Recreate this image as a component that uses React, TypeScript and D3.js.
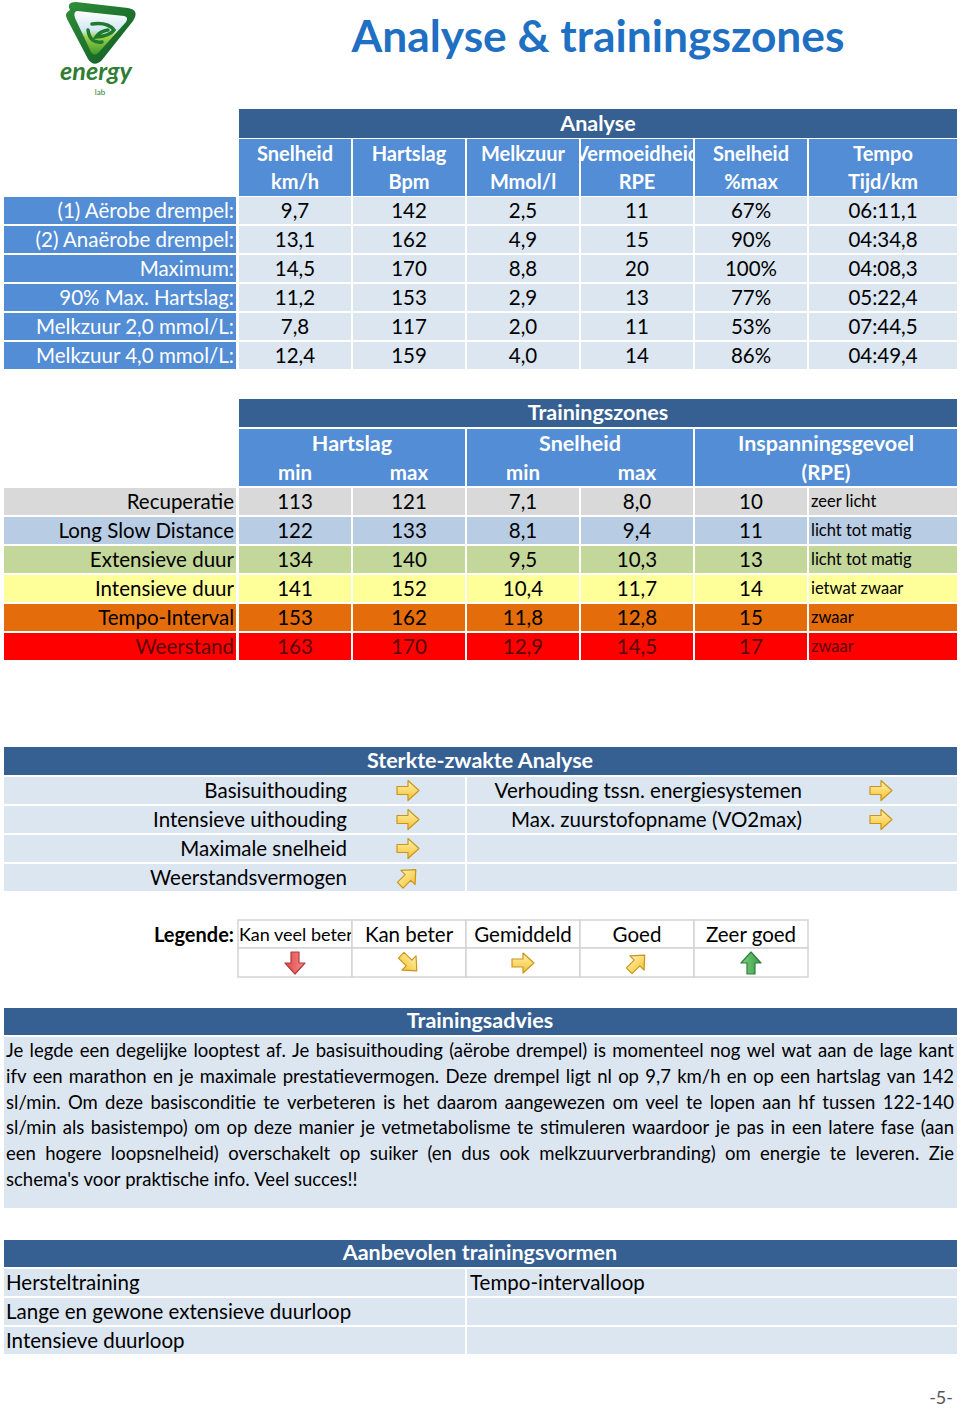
import React, { useMemo } from 'react';
import * as d3 from 'd3';

// ---------- DATA ----------
const analyseRowLabels = ['(1) Aërobe drempel:', '(2) Anaërobe drempel:', 'Maximum:', '90% Max. Hartslag:', 'Melkzuur 2,0 mmol/L:', 'Melkzuur 4,0 mmol/L:'];
const analyseHead1 = ['Snelheid', 'Hartslag', 'Melkzuur', 'Vermoeidheid', 'Snelheid', 'Tempo'];
const analyseHead2 = ['km/h', 'Bpm', 'Mmol/l', 'RPE', '%max', 'Tijd/km'];
const analyseSnelheid = ['9,7', '13,1', '14,5', '11,2', '7,8', '12,4'];
const analyseHartslag = ['142', '162', '170', '153', '117', '159'];
const analyseMelkzuur = ['2,5', '4,9', '8,8', '2,9', '2,0', '4,0'];
const analyseRPE = ['11', '15', '20', '13', '11', '14'];
const analysePctMax = ['67%', '90%', '100%', '77%', '53%', '86%'];
const analyseTempo = ['06:11,1', '04:34,8', '04:08,3', '05:22,4', '07:44,5', '04:49,4'];

const zoneNames = ['Recuperatie', 'Long Slow Distance', 'Extensieve duur', 'Intensieve duur', 'Tempo-Interval', 'Weerstand'];
const zoneHrMin = ['113', '122', '134', '141', '153', '163'];
const zoneHrMax = ['121', '133', '140', '152', '162', '170'];
const zoneSpeedMin = ['7,1', '8,1', '9,5', '10,4', '11,8', '12,9'];
const zoneSpeedMax = ['8,0', '9,4', '10,3', '11,7', '12,8', '14,5'];
const zoneRPE = ['10', '11', '13', '14', '15', '17'];
const zoneFeel = ['zeer licht', 'licht tot matig', 'licht tot matig', 'ietwat zwaar', 'zwaar', 'zwaar'];

const strengthLeft = ['Basisuithouding', 'Intensieve uithouding', 'Maximale snelheid', 'Weerstandsvermogen'];
const strengthLeftRating = ['Gemiddeld', 'Gemiddeld', 'Gemiddeld', 'Goed'];
const strengthRight = ['Verhouding tssn. energiesystemen', 'Max. zuurstofopname (VO2max)', '', ''];
const strengthRightRating = ['Gemiddeld', 'Gemiddeld', '', ''];

const legendLabels = ['Kan veel beter', 'Kan beter', 'Gemiddeld', 'Goed', 'Zeer goed'];

const adviceLines = [
  'Je legde een degelijke looptest af. Je basisuithouding (aërobe drempel) is momenteel nog wel wat aan de lage kant',
  'ifv een marathon en je maximale prestatievermogen. Deze drempel ligt nl op 9,7 km/h en op een hartslag van 142',
  'sl/min. Om deze basisconditie te verbeteren is het daarom aangewezen om veel te lopen aan hf tussen 122-140',
  'sl/min als basistempo) om op deze manier je vetmetabolisme te stimuleren waardoor je pas in een latere fase (aan',
  'een hogere loopsnelheid) overschakelt op suiker (en dus ook melkzuurverbranding) om energie te leveren. Zie',
  "schema's voor praktische info. Veel succes!!",
];

const recommendedLeft = ['Hersteltraining', 'Lange en gewone extensieve duurloop', 'Intensieve duurloop'];
const recommendedRight = ['Tempo-intervalloop', '', ''];

// ---------- STYLE ----------
const FONT = "Lato, 'Open Sans', sans-serif";
const DARK = '#376092';
const MID = '#538dd5';
const LIGHT = '#dce6f1';
const zoneFills = ['#d9d9d9', '#b8cce4', '#c4d79b', '#ffff99', '#e46c0a', '#ff0000'];
const zoneText = ['#000', '#000', '#000', '#000', '#000', '#5a0606'];

// column scale shared by tables
const colBand = d3.scaleBand<number>().domain(d3.range(5)).range([239, 807]).paddingInner(2 / 114);
const colX = (i: number) => (i < 5 ? colBand(i)! : 809);
const colW = (i: number) => (i < 5 ? colBand.bandwidth() : 148);

const rowScale = (top: number, n: number) =>
  d3.scaleBand<number>().domain(d3.range(n)).range([top, top + 29 * n - 2]).paddingInner(2 / 29);

const arrowAngle: Record<string, number> = {
  'Kan veel beter': 90,
  'Kan beter': 45,
  Gemiddeld: 0,
  Goed: -45,
  'Zeer goed': -90,
};

function Arrow({ rating, cx, cy }: { rating: string; cx: number; cy: number }) {
  if (!rating) return null;
  const a = arrowAngle[rating];
  let fill = 'url(#gradYellow)';
  let stroke = '#c8961e';
  if (rating === 'Kan veel beter') { fill = 'url(#gradRed)'; stroke = '#b23a3a'; }
  if (rating === 'Zeer goed') { fill = 'url(#gradGreen)'; stroke = '#2f7d3a'; }
  const pts = '-11,-4 0,-4 0,-10 11,0 0,10 0,4 -11,4';
  return (
    <g transform={`translate(${cx},${cy}) rotate(${a})`}>
      <polygon points={pts} fill={fill} stroke={stroke} strokeWidth={1.2} strokeLinejoin="round" />
    </g>
  );
}

function JustifiedLine({ text, x0, x1, y, size, justify }: { text: string; x0: number; x1: number; y: number; size: number; justify: boolean }) {
  const words = text.split(' ');
  const layout = useMemo(() => {
    const c = document.createElement('canvas').getContext('2d')!;
    c.font = `${size}px Lato`;
    const widths = words.map((w) => c.measureText(w).width);
    const total = d3.sum(widths);
    const spaceNat = c.measureText(' ').width;
    const gap = justify ? (x1 - x0 - total) / (words.length - 1) : spaceNat;
    const xs: number[] = [];
    let x = x0;
    widths.forEach((w) => { xs.push(x); x += w + gap; });
    return xs;
  }, [text, size, justify]);
  return (
    <text y={y} fontSize={size} fontFamily={FONT} fill="#000">
      {words.map((w, i) => (
        <tspan key={i} x={layout[i]}>{w}</tspan>
      ))}
    </text>
  );
}

function Logo() {
  return (
    <g>
      <defs>
        <linearGradient id="logoOuter" x1="0" y1="0" x2="1" y2="1">
          <stop offset="0" stopColor="#2f8f3a" />
          <stop offset="1" stopColor="#0f5a22" />
        </linearGradient>
        <linearGradient id="logoInner" x1="0" y1="0" x2="0" y2="1">
          <stop offset="0" stopColor="#ffffff" />
          <stop offset="0.45" stopColor="#cfe8f2" />
          <stop offset="0.6" stopColor="#9fd04a" />
          <stop offset="1" stopColor="#3f9a2c" />
        </linearGradient>
      </defs>
      <path d="M70,10 Q66,2 76,2 L128,8 Q140,10 133,21 L102,60 Q94,68 88,59 L67,19 Q64,13 70,10 Z" fill="url(#logoOuter)" />
      <path d="M77,11 L124,16 Q129,17 126,22 L99,52 Q94,57 91,52 L75,18 Q73,12 77,11 Z" fill="url(#logoInner)" />
      <path d="M92,24 Q108,22 114,30 Q110,36 96,37 Q100,31 108,30 M88,30 Q90,44 102,42" fill="none" stroke="#1f7a2f" strokeWidth={3.5} strokeLinecap="round" />
      <text x={96} y={80} textAnchor="middle" fontFamily={FONT} fontStyle="italic" fontWeight={700} fontSize={25} fill="#2f7d32" textLength={72} lengthAdjust="spacingAndGlyphs">energy</text>
      <text x={100} y={95} textAnchor="middle" fontFamily={FONT} fontSize={8} fill="#2f7d32">lab</text>
    </g>
  );
}

export default function App() {
  const aRows = rowScale(197, 6);
  const zRows = rowScale(488, 6);
  const sRows = rowScale(777, 4);
  const rRows = rowScale(1269, 3);
  const analyseCols = [analyseSnelheid, analyseHartslag, analyseMelkzuur, analyseRPE, analysePctMax, analyseTempo];
  const zoneCols = [zoneHrMin, zoneHrMax, zoneSpeedMin, zoneSpeedMax, zoneRPE];
  const fs = 20.5;
  const base = (top: number, h: number, size = fs) => top + h / 2 + size * 0.36;

  return (
    <svg width={960} height={1413} style={{ position: 'absolute', left: 0, top: 0, background: '#fff' }} fontFamily={FONT}>
      <defs>
        <linearGradient id="gradYellow" x1="0" y1="0" x2="0" y2="1">
          <stop offset="0" stopColor="#fff3b0" />
          <stop offset="1" stopColor="#f6c12e" />
        </linearGradient>
        <linearGradient id="gradRed" x1="0" y1="0" x2="0" y2="1">
          <stop offset="0" stopColor="#f58a8a" />
          <stop offset="1" stopColor="#e04848" />
        </linearGradient>
        <linearGradient id="gradGreen" x1="0" y1="0" x2="0" y2="1">
          <stop offset="0" stopColor="#7fd07f" />
          <stop offset="1" stopColor="#3a9a48" />
        </linearGradient>
        {[3, 0].map((i) => (
          <clipPath key={i} id={`clipA${i}`}>
            <rect x={colX(i)} y={139} width={colW(i)} height={58} />
          </clipPath>
        ))}
        <clipPath id="clipLegend0">
          <rect x={238} y={920} width={113} height={28} />
        </clipPath>
      </defs>
      <rect x={0} y={0} width={960} height={1413} fill="#fff" />

      <Logo />
      <text x={598} y={52} textAnchor="middle" fontSize={44} fontWeight={700} fill="#1f6fc3" textLength={493} lengthAdjust="spacingAndGlyphs">Analyse &amp; trainingszones</text>

      {/* ---------- ANALYSE ---------- */}
      <rect x={239} y={109} width={718} height={29} fill={DARK} />
      <text x={598} y={131} textAnchor="middle" fontSize={21.5} fontWeight={700} fill="#fff">Analyse</text>
      {analyseHead1.map((h, i) => (
        <g key={i}>
          <rect x={colX(i)} y={139} width={colW(i)} height={57} fill={MID} />
          <g clipPath={i === 3 ? 'url(#clipA3)' : undefined}>
            <text x={colX(i) + colW(i) / 2} y={161} textAnchor="middle" fontSize={20} fontWeight={700} fill="#fff">{h}</text>
          </g>
          <text x={colX(i) + colW(i) / 2} y={189} textAnchor="middle" fontSize={20} fontWeight={700} fill="#fff">{analyseHead2[i]}</text>
        </g>
      ))}
      {analyseRowLabels.map((lab, r) => {
        const y = aRows(r)!;
        const h = aRows.bandwidth();
        return (
          <g key={r}>
            <rect x={4} y={y} width={232} height={h} fill={MID} />
            <text x={234} y={base(y, h)} textAnchor="end" fontSize={fs} fill="#fff">{lab}</text>
            {analyseCols.map((col, c) => (
              <g key={c}>
                <rect x={colX(c)} y={y} width={colW(c)} height={h} fill={LIGHT} />
                <text x={colX(c) + colW(c) / 2} y={base(y, h)} textAnchor="middle" fontSize={fs} fill="#000">{col[r]}</text>
              </g>
            ))}
          </g>
        );
      })}

      {/* ---------- TRAININGSZONES ---------- */}
      <rect x={239} y={399} width={718} height={28} fill={DARK} />
      <text x={598} y={420} textAnchor="middle" fontSize={21.5} fontWeight={700} fill="#fff">Trainingszones</text>
      <rect x={239} y={429} width={226} height={57} fill={MID} />
      <rect x={467} y={429} width={226} height={57} fill={MID} />
      <rect x={695} y={429} width={262} height={57} fill={MID} />
      <text x={352} y={451} textAnchor="middle" fontSize={21.5} fontWeight={700} fill="#fff">Hartslag</text>
      <text x={580} y={451} textAnchor="middle" fontSize={21.5} fontWeight={700} fill="#fff">Snelheid</text>
      <text x={826} y={451} textAnchor="middle" fontSize={21.5} fontWeight={700} fill="#fff">Inspanningsgevoel</text>
      {[0, 1, 2, 3].map((c) => (
        <text key={c} x={colX(c) + colW(c) / 2} y={480} textAnchor="middle" fontSize={20.5} fontWeight={700} fill="#fff">{c % 2 === 0 ? 'min' : 'max'}</text>
      ))}
      <text x={826} y={480} textAnchor="middle" fontSize={20.5} fontWeight={700} fill="#fff">(RPE)</text>
      {zoneNames.map((name, r) => {
        const y = zRows(r)!;
        const h = zRows.bandwidth();
        return (
          <g key={r}>
            <rect x={4} y={y} width={232} height={h} fill={zoneFills[r]} />
            <text x={234} y={base(y, h)} textAnchor="end" fontSize={fs} fill={zoneText[r]}>{name}</text>
            {zoneCols.map((col, c) => (
              <g key={c}>
                <rect x={colX(c)} y={y} width={colW(c)} height={h} fill={zoneFills[r]} />
                <text x={colX(c) + colW(c) / 2} y={base(y, h)} textAnchor="middle" fontSize={fs} fill={zoneText[r]}>{col[r]}</text>
              </g>
            ))}
            <rect x={colX(5)} y={y} width={colW(5)} height={h} fill={zoneFills[r]} />
            <text x={811} y={base(y, h, 16.5)} fontSize={16.5} fill={zoneText[r]}>{zoneFeel[r]}</text>
          </g>
        );
      })}

      {/* ---------- STERKTE-ZWAKTE ---------- */}
      <rect x={4} y={747} width={953} height={28} fill={DARK} />
      <text x={480} y={768} textAnchor="middle" fontSize={21.5} fontWeight={700} fill="#fff">Sterkte-zwakte Analyse</text>
      {strengthLeft.map((lab, r) => {
        const y = sRows(r)!;
        const h = sRows.bandwidth();
        return (
          <g key={r}>
            <rect x={4} y={y} width={461} height={h} fill={LIGHT} />
            <rect x={467} y={y} width={490} height={h} fill={LIGHT} />
            <text x={347} y={base(y, h)} textAnchor="end" fontSize={fs} fill="#000">{lab}</text>
            <Arrow rating={strengthLeftRating[r]} cx={408} cy={y + h / 2} />
            <text x={802} y={base(y, h)} textAnchor="end" fontSize={fs} fill="#000">{strengthRight[r]}</text>
            <Arrow rating={strengthRightRating[r]} cx={881} cy={y + h / 2} />
          </g>
        );
      })}

      {/* ---------- LEGENDE ---------- */}
      <text x={234} y={942} textAnchor="end" fontSize={20} fontWeight={700} fill="#000">Legende:</text>
      {legendLabels.map((lab, i) => {
        const x = 238 + i * 114;
        return (
          <g key={i}>
            <rect x={x} y={920} width={114} height={28} fill="#fff" stroke="#d4d4d4" strokeWidth={1.5} />
            <rect x={x} y={948} width={114} height={29} fill="#fff" stroke="#d4d4d4" strokeWidth={1.5} />
            {i === 0 ? (
              <g clipPath="url(#clipLegend0)">
                <text x={x + 1} y={941} fontSize={18} fill="#000">{lab}</text>
              </g>
            ) : (
              <text x={x + 57} y={942} textAnchor="middle" fontSize={20.5} fill="#000">{lab}</text>
            )}
            <Arrow rating={lab} cx={x + 57} cy={963} />
          </g>
        );
      })}

      {/* ---------- TRAININGSADVIES ---------- */}
      <rect x={4} y={1008} width={953} height={27} fill={DARK} />
      <text x={480} y={1028} textAnchor="middle" fontSize={21.5} fontWeight={700} fill="#fff">Trainingsadvies</text>
      <rect x={4} y={1037} width={953} height={171} fill={LIGHT} />
      {adviceLines.map((line, i) => (
        <JustifiedLine key={i} text={line} x0={6} x1={954} y={1057 + i * 25.8} size={18.5} justify={i < adviceLines.length - 1} />
      ))}

      {/* ---------- AANBEVOLEN ---------- */}
      <rect x={4} y={1240} width={953} height={27} fill={DARK} />
      <text x={480} y={1260} textAnchor="middle" fontSize={21.5} fontWeight={700} fill="#fff">Aanbevolen trainingsvormen</text>
      {recommendedLeft.map((lab, r) => {
        const y = rRows(r)!;
        const h = rRows.bandwidth();
        return (
          <g key={r}>
            <rect x={4} y={y} width={461} height={h} fill={LIGHT} />
            <rect x={467} y={y} width={490} height={h} fill={LIGHT} />
            <text x={6} y={base(y, h)} fontSize={fs} fill="#000">{lab}</text>
            <text x={470} y={base(y, h)} fontSize={fs} fill="#000">{recommendedRight[r]}</text>
          </g>
        );
      })}

      <text x={953} y={1404} textAnchor="end" fontSize={18} fill="#555">-5-</text>
    </svg>
  );
}
